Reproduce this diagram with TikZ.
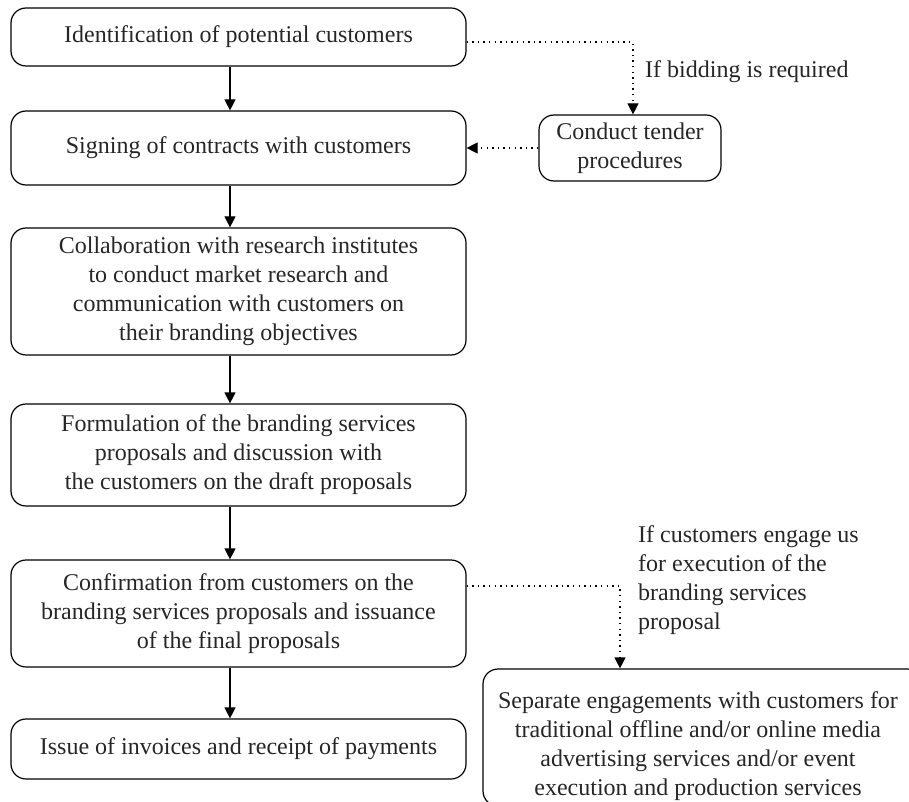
\documentclass[tikz,border=0pt]{standalone}
\usepackage{fontspec}
\setmainfont{Liberation Serif}
\usetikzlibrary{arrows.meta}
\begin{document}
\begin{tikzpicture}[x=1pt,y=-1pt,
  box/.style={draw, line width=1.2pt, rounded corners=15pt, align=center,
    inner sep=0pt, font=\fontsize{24}{29}\selectfont, text=black!85},
  lbl/.style={inner sep=0pt, align=left, font=\fontsize{24}{29}\selectfont, text=black!85},
  arr/.style={line width=1.2pt, -{Triangle[length=11pt,width=11pt]}},
  dotarr/.style={line width=1.2pt, dash pattern=on 1.4pt off 4.2pt, -{Triangle[length=11pt,width=11pt]}}]
\useasboundingbox (0,0) rectangle (909,802);
\begin{scope}
\clip (0,0) rectangle (909,802);
\node[box, minimum width=455pt, minimum height=58pt] (b1) at (238.5,37) {Identification of potential customers};
\node[box, minimum width=455pt, minimum height=74pt] (b2) at (238.5,148) {Signing of contracts with customers};
\node[box, minimum width=455pt, minimum height=127pt] (b3) at (238.5,291.5) {Collaboration with research institutes\\to conduct market research and\\communication with customers on\\their branding objectives};
\node[box, minimum width=455pt, minimum height=102pt] (b4) at (238.5,455) {Formulation of the branding services\\proposals and discussion with\\the customers on the draft proposals};
\node[box, minimum width=455pt, minimum height=107pt] (b5) at (238.5,613.5) {Confirmation from customers on the\\branding services proposals and issuance\\of the final proposals};
\node[box, minimum width=455pt, minimum height=60pt] (b6) at (238.5,749) {Issue of invoices and receipt of payments};
\node[box, minimum width=182pt, minimum height=66pt] (b7) at (630,148) {Conduct tender\\procedures};
\node[box, minimum width=439pt, minimum height=137pt] (b8) at (702.5,737.5) {};
\node[lbl, align=center] (t8) at (698,746) {Separate engagements with customers for\\traditional offline and/or online media\\advertising services and/or event\\execution and production services};

\node[lbl, anchor=west] (l1) at (645,72) {If bidding is required};
\node[lbl, anchor=north west] (l2) at (638,525) {If customers engage us\\for execution of the\\branding services\\proposal};

\draw[arr] ([xshift=-8.5pt]b1.south) -- ([xshift=-8.5pt]b2.north);
\draw[arr] ([xshift=-8.5pt]b2.south) -- ([xshift=-8.5pt]b3.north);
\draw[arr] ([xshift=-8.5pt]b3.south) -- ([xshift=-8.5pt]b4.north);
\draw[arr] ([xshift=-8.5pt]b4.south) -- ([xshift=-8.5pt]b5.north);
\draw[arr] ([xshift=-8.5pt]b5.south) -- ([xshift=-8.5pt]b6.north);

\coordinate (c1) at (633,42);
\draw[dotarr] (b1.east |- c1) -| (b7.north -| c1);
\draw[dotarr] (b7.west) -- (b2.east);
\coordinate (c2) at (620,586);
\draw[dotarr] (b5.east |- c2) -| (b8.north -| c2);
\end{scope}
\end{tikzpicture}
\end{document}
